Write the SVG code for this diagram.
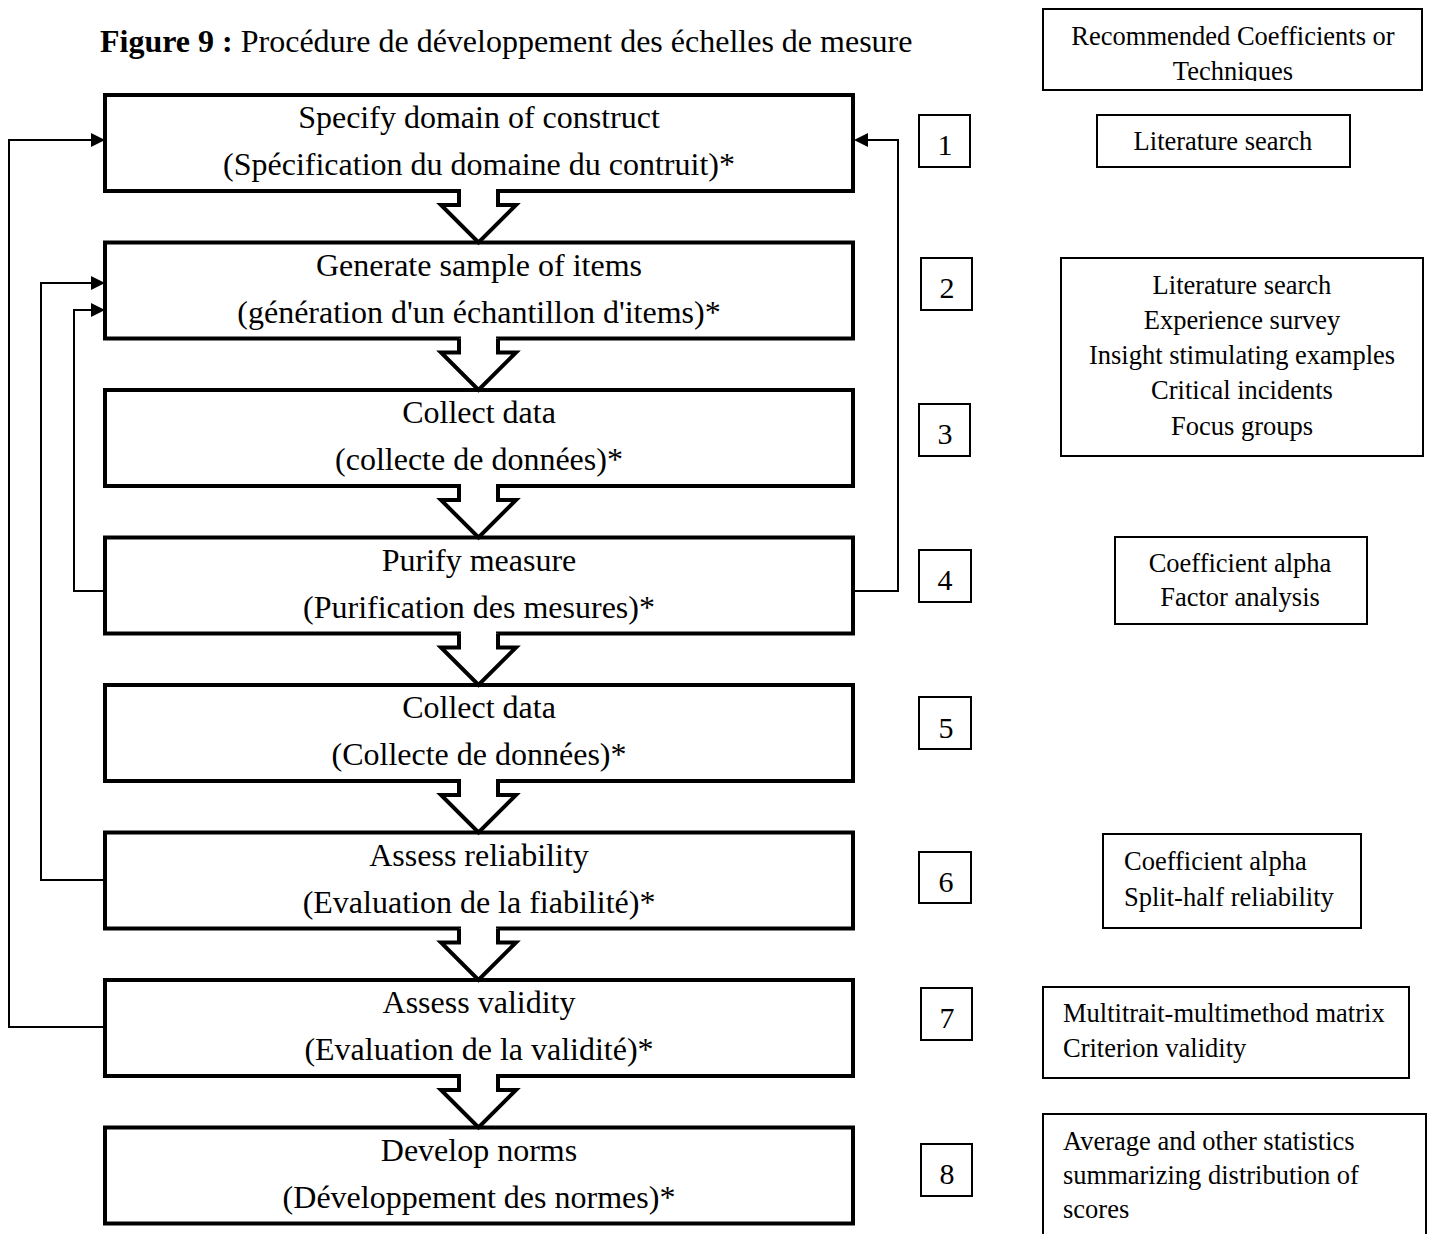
<svg xmlns="http://www.w3.org/2000/svg" width="1431" height="1234" viewBox="0 0 1431 1234">
<defs>
<style>
text{font-family:"Liberation Serif","Times New Roman",serif;fill:#000}
.main{font-size:32px;text-anchor:middle}
.title{font-size:32px}
.side{font-size:26.5px}
.mid{text-anchor:middle}
.num{font-size:30px;text-anchor:middle}
.box{fill:#fff;stroke:#000;stroke-width:4}
.nbox{fill:#fff;stroke:#000;stroke-width:2}
.rbox{fill:#fff;stroke:#000;stroke-width:2}
.arrow{fill:#fff;stroke:#000;stroke-width:4;stroke-linejoin:miter}
.fb{fill:none;stroke:#000;stroke-width:2}
.head{fill:#000}
</style>
<clipPath id="clipTop"><rect x="1043" y="9" width="379" height="72"/></clipPath>
</defs>
<rect width="1431" height="1234" fill="#fff"/>

<text class="title" x="100" y="52"><tspan font-weight="bold">Figure 9 :</tspan> Procédure de développement des échelles de mesure</text>

<g id="node1"><rect class="box" x="105" y="95" width="748" height="96"/>
<text class="main" x="479" y="128">Specify domain of construct</text>
<text class="main" x="479" y="175">(Spécification du domaine du contruit)*</text></g>
<g id="node2"><rect class="box" x="105" y="242.5" width="748" height="96"/>
<text class="main" x="479" y="275.5">Generate sample of items</text>
<text class="main" x="479" y="322.5">(génération d'un échantillon d'items)*</text></g>
<g id="node3"><rect class="box" x="105" y="390" width="748" height="96"/>
<text class="main" x="479" y="423">Collect data</text>
<text class="main" x="479" y="470">(collecte de données)*</text></g>
<g id="node4"><rect class="box" x="105" y="537.5" width="748" height="96"/>
<text class="main" x="479" y="570.5">Purify measure</text>
<text class="main" x="479" y="617.5">(Purification des mesures)*</text></g>
<g id="node5"><rect class="box" x="105" y="685" width="748" height="96"/>
<text class="main" x="479" y="718">Collect data</text>
<text class="main" x="479" y="765">(Collecte de données)*</text></g>
<g id="node6"><rect class="box" x="105" y="832.5" width="748" height="96"/>
<text class="main" x="479" y="865.5">Assess reliability</text>
<text class="main" x="479" y="912.5">(Evaluation de la fiabilité)*</text></g>
<g id="node7"><rect class="box" x="105" y="980" width="748" height="96"/>
<text class="main" x="479" y="1013">Assess validity</text>
<text class="main" x="479" y="1060">(Evaluation de la validité)*</text></g>
<g id="node8"><rect class="box" x="105" y="1127.5" width="748" height="96"/>
<text class="main" x="479" y="1160.5">Develop norms</text>
<text class="main" x="479" y="1207.5">(Développement des normes)*</text></g>

<g id="connectors">
<g id="blockArrows">
<rect x="461" y="188" width="35" height="6" fill="#fff"/>
<path class="arrow" d="M459 191 V205 H441 L478.5 242.5 L516 205 H498 V191"/>
<rect x="461" y="335.5" width="35" height="6" fill="#fff"/>
<path class="arrow" d="M459 338.5 V352.5 H441 L478.5 390 L516 352.5 H498 V338.5"/>
<rect x="461" y="483" width="35" height="6" fill="#fff"/>
<path class="arrow" d="M459 486 V500 H441 L478.5 537.5 L516 500 H498 V486"/>
<rect x="461" y="630.5" width="35" height="6" fill="#fff"/>
<path class="arrow" d="M459 633.5 V647.5 H441 L478.5 685 L516 647.5 H498 V633.5"/>
<rect x="461" y="778" width="35" height="6" fill="#fff"/>
<path class="arrow" d="M459 781 V795 H441 L478.5 832.5 L516 795 H498 V781"/>
<rect x="461" y="925.5" width="35" height="6" fill="#fff"/>
<path class="arrow" d="M459 928.5 V942.5 H441 L478.5 980 L516 942.5 H498 V928.5"/>
<rect x="461" y="1073" width="35" height="6" fill="#fff"/>
<path class="arrow" d="M459 1076 V1090 H441 L478.5 1127.5 L516 1090 H498 V1076"/>
</g>
<g id="feedback">
<path class="fb" d="M107 1027 H9 V140 H92"/>
<polygon class="head" points="105,140 91,133 91,147"/>
<path class="fb" d="M107 880 H41 V283 H92"/>
<polygon class="head" points="105,283 91,276 91,290"/>
<path class="fb" d="M107 591 H74 V310 H92"/>
<polygon class="head" points="105,310 91,303 91,317"/>
<path class="fb" d="M853 591 H898 V140 H867"/>
<polygon class="head" points="854,140 868,133 868,147"/>
</g>
</g>

<g id="num1"><rect class="nbox" x="919" y="115" width="51" height="52"/><text class="num" x="945" y="155">1</text></g>
<g id="num2"><rect class="nbox" x="921" y="258" width="51" height="52"/><text class="num" x="947" y="298">2</text></g>
<g id="num3"><rect class="nbox" x="919" y="404" width="51" height="52"/><text class="num" x="945" y="444">3</text></g>
<g id="num4"><rect class="nbox" x="919" y="550" width="52" height="52"/><text class="num" x="945" y="590">4</text></g>
<g id="num5"><rect class="nbox" x="919" y="697" width="52" height="52"/><text class="num" x="946" y="738">5</text></g>
<g id="num6"><rect class="nbox" x="919" y="852" width="52" height="51"/><text class="num" x="946" y="892">6</text></g>
<g id="num7"><rect class="nbox" x="921" y="988" width="51" height="52"/><text class="num" x="947" y="1028">7</text></g>
<g id="num8"><rect class="nbox" x="921" y="1144" width="51" height="52"/><text class="num" x="947" y="1184">8</text></g>

<g id="header"><rect class="rbox" x="1043" y="9" width="379" height="81"/>
<text class="side mid" x="1233" y="45">Recommended Coefficients or</text>
<text class="side mid" x="1233" y="80" clip-path="url(#clipTop)">Techniques</text></g>

<g id="tech1"><rect class="rbox" x="1097" y="115" width="253" height="52"/>
<text class="side mid" x="1223" y="150">Literature search</text></g>

<g id="tech2"><rect class="rbox" x="1061" y="258" width="362" height="198"/>
<text class="side mid" x="1242" y="294">Literature search</text>
<text class="side mid" x="1242" y="329">Experience survey</text>
<text class="side mid" x="1242" y="364">Insight stimulating examples</text>
<text class="side mid" x="1242" y="399">Critical incidents</text>
<text class="side mid" x="1242" y="435">Focus groups</text></g>

<g id="tech4"><rect class="rbox" x="1115" y="537" width="252" height="87"/>
<text class="side mid" x="1240" y="572">Coefficient alpha</text>
<text class="side mid" x="1240" y="606">Factor analysis</text></g>

<g id="tech6"><rect class="rbox" x="1103" y="834" width="258" height="94"/>
<text class="side" x="1124" y="870">Coefficient alpha</text>
<text class="side" x="1124" y="906">Split-half reliability</text></g>

<g id="tech7"><rect class="rbox" x="1043" y="987" width="366" height="91"/>
<text class="side" x="1063" y="1022">Multitrait-multimethod matrix</text>
<text class="side" x="1063" y="1057">Criterion validity</text></g>

<g id="tech8"><path class="rbox" fill="none" d="M1043 1240 V1114 H1426 V1240"/>
<text class="side" x="1063" y="1150">Average and other statistics</text>
<text class="side" x="1063" y="1184">summarizing distribution of</text>
<text class="side" x="1063" y="1218">scores</text></g>
</svg>
